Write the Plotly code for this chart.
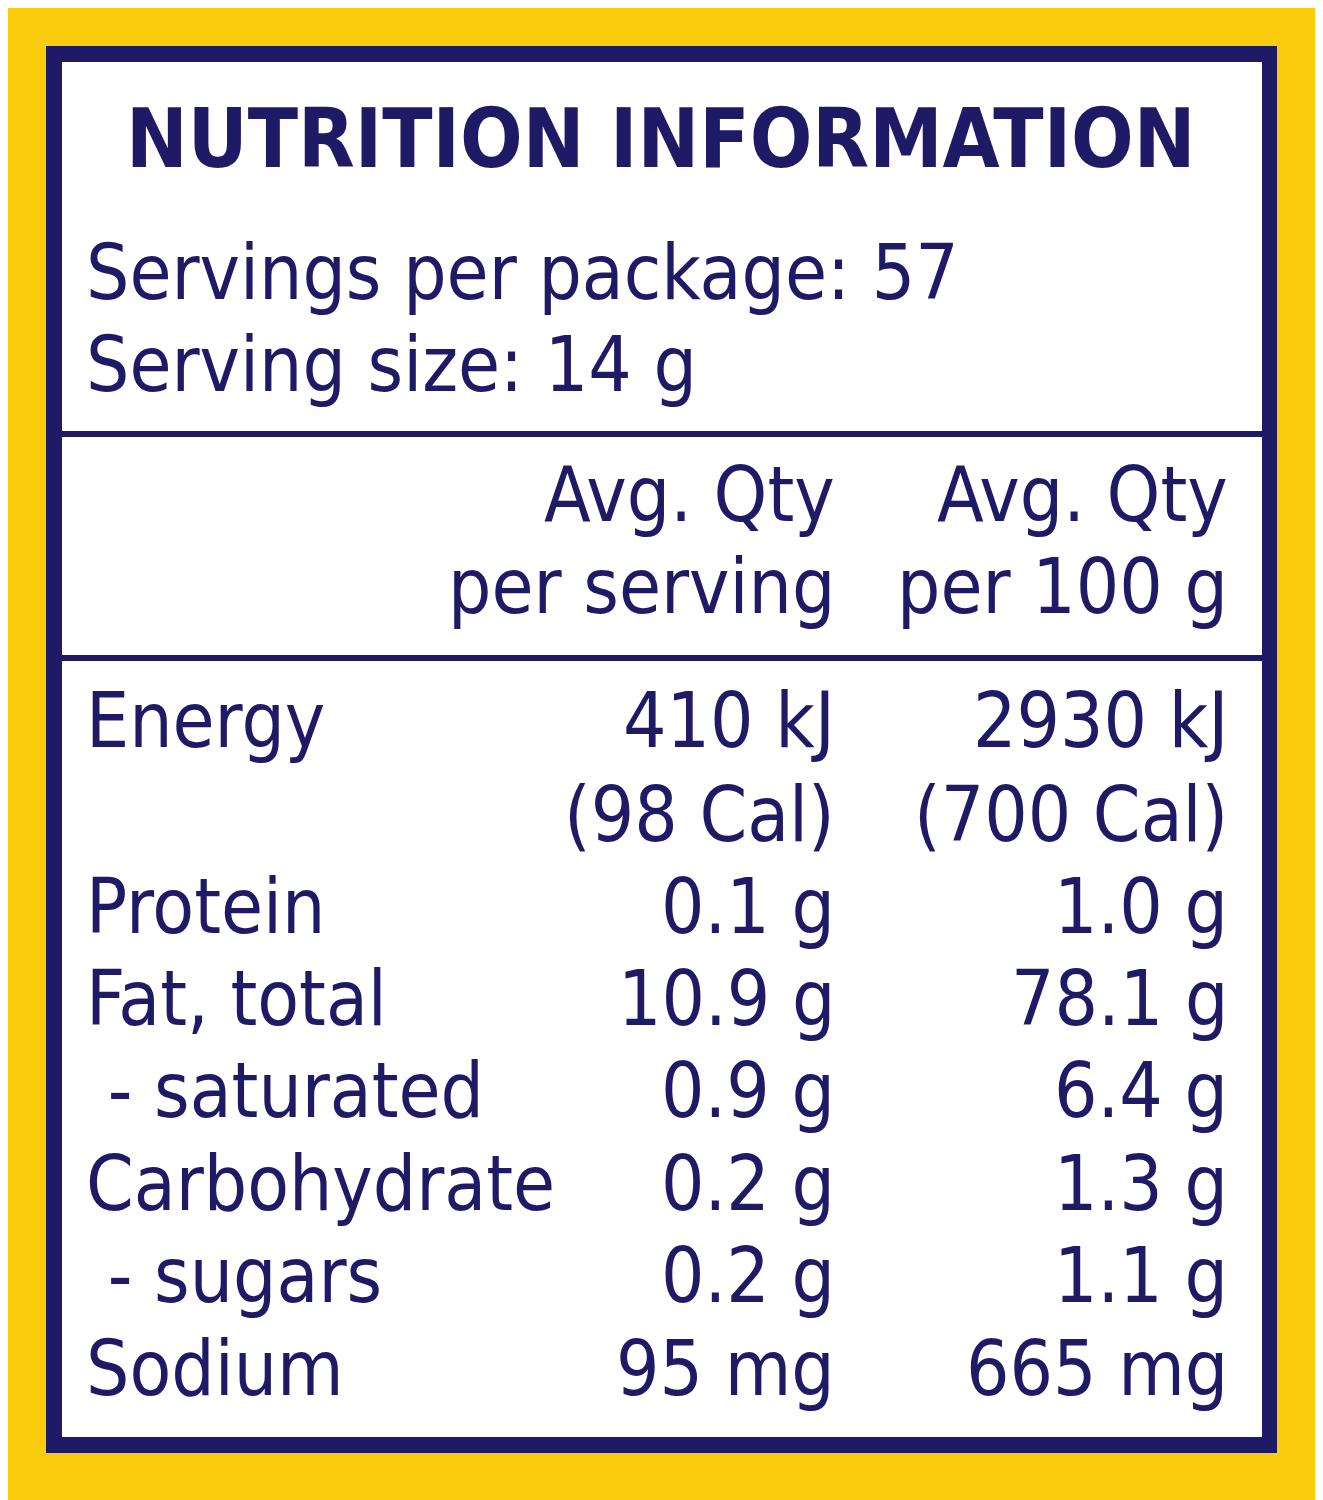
import plotly.graph_objects as go

title = "NUTRITION INFORMATION"
servings_per_package = "Servings per package: 57"
serving_size = "Serving size: 14 g"
col_headers = [["Avg. Qty", "per serving"], ["Avg. Qty", "per 100 g"]]
nutrients = ["Energy", "", "Protein", "Fat, total", " - saturated", "Carbohydrate", " - sugars", "Sodium"]
per_serving = ["410 kJ", "(98 Cal)", "0.1 g", "10.9 g", "0.9 g", "0.2 g", "0.2 g", "95 mg"]
per_100g = ["2930 kJ", "(700 Cal)", "1.0 g", "78.1 g", "6.4 g", "1.3 g", "1.1 g", "665 mg"]

NAVY = "#1f1a66"
YEL = "#f9cd0b"
FONT = "DejaVu Sans Condensed, sans-serif"
W, H = 1323, 1500
OFF = 8

fig = go.Figure()
shapes = [
    dict(type="rect", x0=-20, x1=W + 20, y0=-20, y1=H + 20, fillcolor=YEL, line_width=0, layer="below"),
    dict(type="rect", x0=46, x1=1277, y0=46, y1=1453, fillcolor=NAVY, line_width=0, layer="below"),
    dict(type="rect", x0=62, x1=1262, y0=62, y1=1437, fillcolor="white", line_width=0, layer="below"),
    dict(type="rect", x0=62, x1=1262, y0=431, y1=437, fillcolor=NAVY, line_width=0, layer="below"),
    dict(type="rect", x0=62, x1=1262, y0=655, y1=661, fillcolor=NAVY, line_width=0, layer="below"),
]
ann = []
def t(x, y, s, size=76, anchor="left", bold=False):
    ann.append(dict(x=x, y=y, xref="x", yref="y", text=f"<b>{s}</b>" if bold else s,
                    showarrow=False, xanchor=anchor, yanchor="middle",
                    font=dict(family=FONT, size=size, color=NAVY)))

t(661, 138, title, size=82, anchor="center", bold=True)
t(84, 272, servings_per_package)
t(84, 364, serving_size)
for i, hdr in enumerate(col_headers):
    xr = [837, 1230][i]
    t(xr, 494, hdr[0], anchor="right")
    t(xr, 586, hdr[1], anchor="right")
row_y = [720, 814, 906, 998, 1090, 1183, 1275, 1368]
for i in range(len(nutrients)):
    if nutrients[i]:
        t(84, row_y[i], nutrients[i])
    t(837, row_y[i], per_serving[i], anchor="right")
    t(1230, row_y[i], per_100g[i], anchor="right")

fig.update_layout(width=W, height=H, margin=dict(l=0, r=0, t=0, b=0),
                  shapes=shapes, annotations=ann, plot_bgcolor=YEL, paper_bgcolor=YEL,
                  xaxis=dict(range=[OFF, W + OFF], visible=False, fixedrange=True),
                  yaxis=dict(range=[H + OFF, OFF], visible=False, fixedrange=True),
                  showlegend=False)
fig.write_html("out.html", config={"displayModeBar": False})
